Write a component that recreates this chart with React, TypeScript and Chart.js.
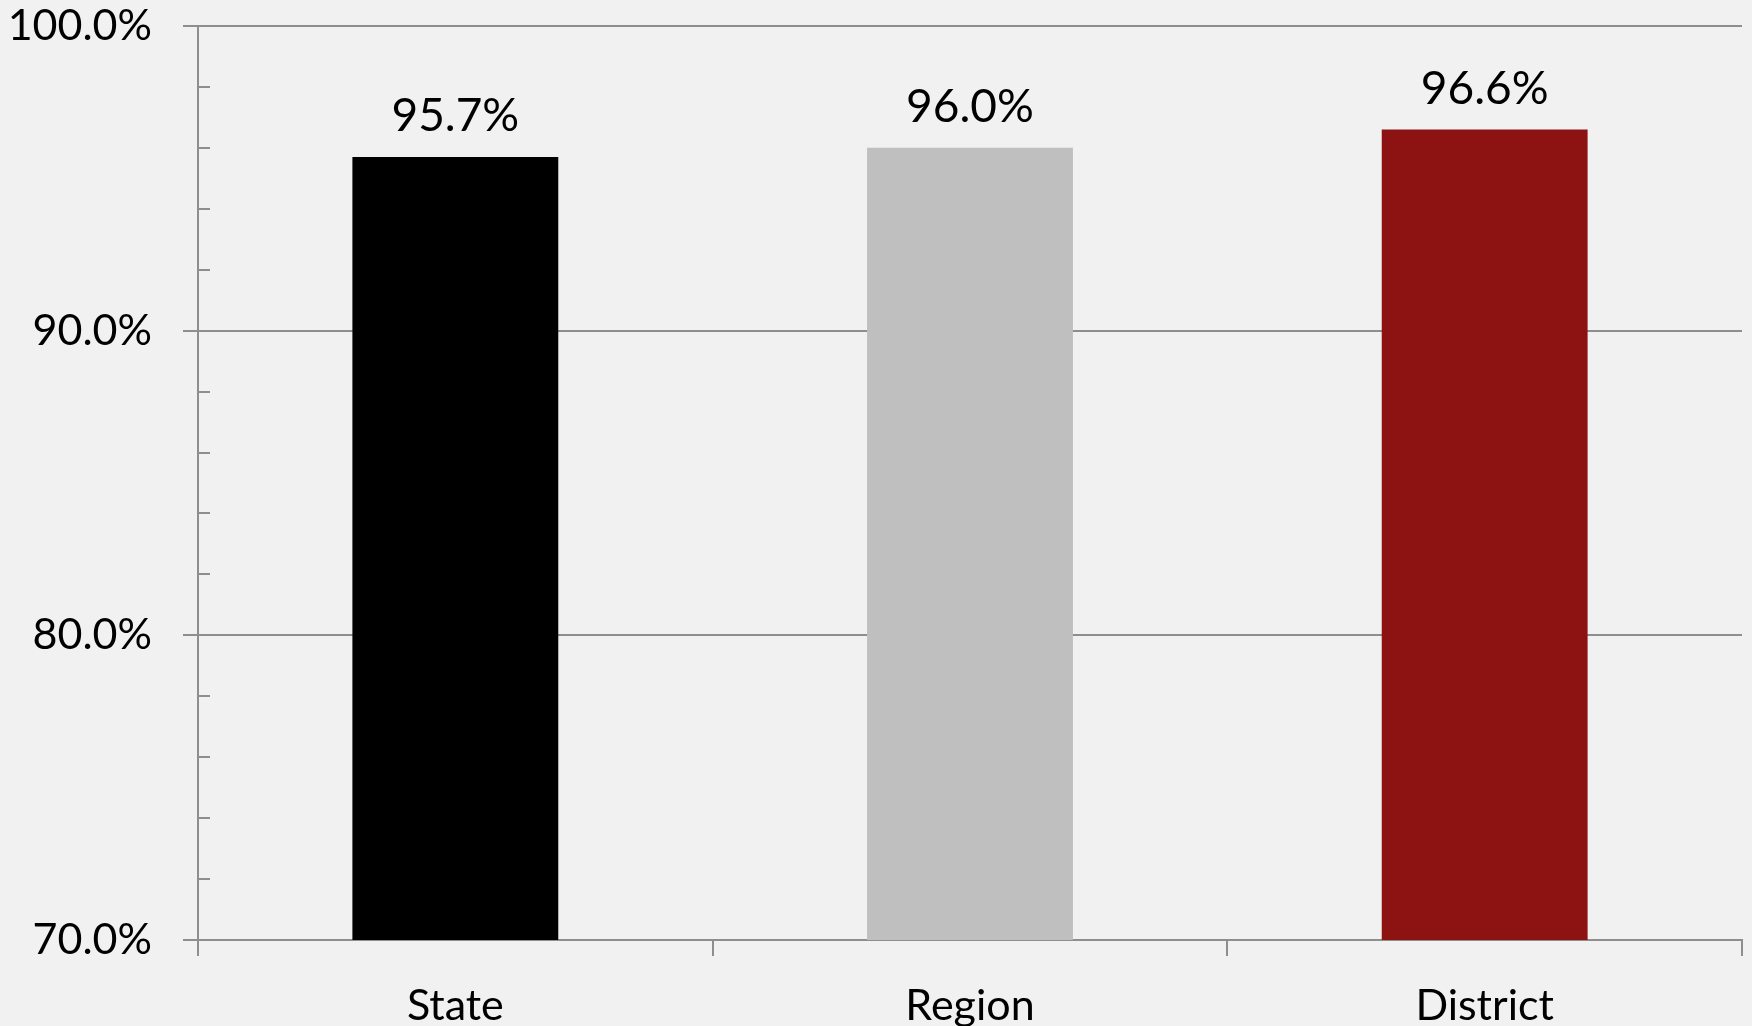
import React, { useEffect, useRef } from "react";
import { Chart, registerables } from "chart.js";

Chart.register(...registerables);

const categories: string[] = ["State", "Region", "District"];
const values: number[] = [95.7, 96.0, 96.6];
const barColors: string[] = ["#000000", "#bfbfbf", "#8c1311"];
const yMajorTicks: number[] = [70, 80, 90, 100];
const yMinorTicks: number[] = [72, 74, 76, 78, 82, 84, 86, 88, 92, 94, 96, 98];

const FONT = "Lato, 'Open Sans', sans-serif";
const GRID = "#8e8e8e";

const minorTickPlugin = {
  id: "minorTicks",
  afterDraw(chart: any) {
    const y = chart.scales.y;
    const ctx = chart.ctx;
    ctx.save();
    ctx.strokeStyle = GRID;
    ctx.lineWidth = 2;
    yMinorTicks.forEach((v) => {
      const py = Math.round(y.getPixelForValue(v));
      ctx.beginPath();
      ctx.moveTo(chart.chartArea.left, py);
      ctx.lineTo(chart.chartArea.left + 12, py);
      ctx.stroke();
    });
    ctx.restore();
  },
};

const dataLabelPlugin = {
  id: "dataLabels",
  afterDatasetsDraw(chart: any) {
    const ctx = chart.ctx;
    const meta = chart.getDatasetMeta(0);
    ctx.save();
    ctx.fillStyle = "#000000";
    ctx.font = `46px ${FONT}`;
    ctx.textAlign = "center";
    ctx.textBaseline = "alphabetic";
    meta.data.forEach((bar: any, i: number) => {
      ctx.fillText(values[i].toFixed(1) + "%", bar.x, bar.y - 26);
    });
    ctx.restore();
  },
};

export default function App() {
  const ref = useRef<HTMLCanvasElement | null>(null);

  useEffect(() => {
    if (!ref.current) return;
    const chart = new Chart(ref.current, {
      type: "bar",
      data: {
        labels: categories,
        datasets: [
          {
            data: values,
            backgroundColor: barColors,
            borderWidth: 0,
            barPercentage: 0.4,
            categoryPercentage: 1.0,
          },
        ],
      },
      options: {
        responsive: false,
        animation: false,
        maintainAspectRatio: false,
        layout: { padding: { top: 0, right: 10, left: 0, bottom: 0 } },
        plugins: {
          legend: { display: false },
          tooltip: { enabled: false },
        },
        scales: {
          x: {
            offset: true,
            grid: {
              display: true,
              offset: true,
              drawOnChartArea: false,
              drawTicks: true,
              tickLength: 16,
              color: GRID,
              lineWidth: 2,
            },
            border: { display: true, color: GRID, width: 2 },
            ticks: {
              color: "#000000",
              font: { family: FONT, size: 43 },
              padding: 24,
              maxRotation: 0,
              autoSkip: false,
            },
            afterFit: (scale: any) => {
              scale.height = 86;
            },
          },
          y: {
            min: 70,
            max: 100,
            afterBuildTicks: (scale: any) => {
              scale.ticks = yMajorTicks.map((v) => ({ value: v }));
            },
            grid: {
              display: true,
              drawOnChartArea: true,
              drawTicks: true,
              tickLength: 15,
              color: GRID,
              lineWidth: 2,
            },
            border: { display: true, color: GRID, width: 2 },
            ticks: {
              color: "#000000",
              font: { family: FONT, size: 43 },
              padding: 31,
              callback: (v: any) => Number(v).toFixed(1) + "%",
            },
            afterFit: (scale: any) => {
              scale.width = 198;
              scale.paddingTop = 26;
              scale.paddingBottom = 0;
            },
          },
        },
      },
      plugins: [minorTickPlugin, dataLabelPlugin],
    });
    return () => chart.destroy();
  }, []);

  return (
    <div
      style={{
        position: "fixed",
        left: 0,
        top: 0,
        width: 1752,
        height: 1026,
        background: "#f1f1f1",
      }}
    >
      <canvas ref={ref} width={1752} height={1026} style={{ display: "block" }} />
    </div>
  );
}
